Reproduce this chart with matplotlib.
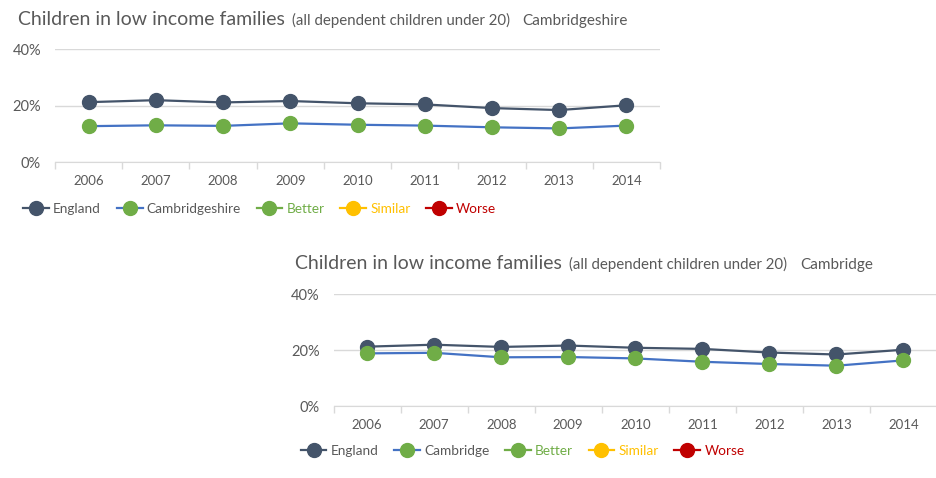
import matplotlib
matplotlib.use('Agg')
import matplotlib.pyplot as plt
from matplotlib.lines import Line2D
from matplotlib.ticker import FixedLocator

plt.rcParams['font.family'] = ['Lato', 'DejaVu Sans']

years = ['2006', '2007', '2008', '2009', '2010', '2011', '2012', '2013', '2014']
england = [21.2, 21.9, 21.1, 21.6, 20.8, 20.4, 19.1, 18.4, 20.1]
cambridgeshire = [12.7, 13.0, 12.8, 13.7, 13.2, 12.9, 12.3, 11.9, 12.9]
cambridge = [18.8, 19.0, 17.4, 17.5, 17.0, 15.8, 15.0, 14.4, 16.3]
legend_labels = ['Better', 'Similar', 'Worse']

GREY = '#595959'
GRID = '#D9D9D9'
NAVY = '#44546A'
BLUE = '#4472C4'
GREEN = '#70AD47'
AMBER = '#FFC000'
RED = '#C00000'

fig = plt.figure(figsize=(9.37, 4.78), dpi=100)


def draw_title(x, y, area):
    parts = [('Children in low income families', 14, 0),
             ('(all dependent children under 20)', 10.8, 7),
             (area, 11, 13)]
    r = fig.canvas.get_renderer()
    cur = x
    for txt, size, gap in parts:
        cur += gap / fig.bbox.width
        t = fig.text(cur, y, txt, fontsize=size, color=GREY, va='baseline')
        bb = t.get_window_extent(renderer=r)
        cur = (bb.x1) / fig.bbox.width


def draw_panel(rect, area, values, title_xy, leg_xy):
    ax = fig.add_axes(rect)
    x = list(range(len(years)))
    ax.plot(x, england, color=NAVY, lw=1.6, marker='o', ms=10,
            mfc=NAVY, mec=NAVY, zorder=3)
    ax.plot(x, values, color=BLUE, lw=1.6, marker='o', ms=10,
            mfc=GREEN, mec=GREEN, zorder=3)
    ax.set_xlim(-0.5, len(years) - 0.5)
    ax.set_ylim(0, 40)
    ax.set_yticks([0, 20, 40])
    ax.set_yticklabels(['0%', '20%', '40%'])
    ax.set_xticks(x)
    ax.set_xticklabels(years)
    ax.xaxis.set_minor_locator(FixedLocator([i - 0.5 for i in range(len(years) + 1)]))
    ax.tick_params(axis='x', which='major', length=0, pad=9, labelsize=9.5, labelcolor=GREY)
    ax.tick_params(axis='x', which='minor', length=5, color=GRID, width=1)
    ax.tick_params(axis='y', length=0, pad=10, labelsize=10.5, labelcolor=GREY)
    ax.yaxis.grid(True, color=GRID, lw=1)
    ax.set_axisbelow(True)
    for s in ['top', 'right', 'left']:
        ax.spines[s].set_visible(False)
    ax.spines['bottom'].set_color(GRID)
    ax.patch.set_alpha(0)

    draw_title(title_xy[0], title_xy[1], area)

    handles = [
        Line2D([], [], color=NAVY, lw=1.6, marker='o', ms=10, mfc=NAVY, mec=NAVY),
        Line2D([], [], color=BLUE, lw=1.6, marker='o', ms=10, mfc=GREEN, mec=GREEN),
        Line2D([], [], color=GREEN, lw=1.6, marker='o', ms=10, mfc=GREEN, mec=GREEN),
        Line2D([], [], color=AMBER, lw=1.6, marker='o', ms=10, mfc=AMBER, mec=AMBER),
        Line2D([], [], color=RED, lw=1.6, marker='o', ms=10, mfc=RED, mec=RED),
    ]
    labels = ['England', area] + legend_labels
    leg = fig.legend(handles, labels, loc='center left', bbox_to_anchor=leg_xy,
                     ncol=5, frameon=False, fontsize=9.8, handlelength=1.9,
                     handletextpad=0.3, columnspacing=1.15, borderaxespad=0)
    for t, c in zip(leg.get_texts(), [GREY, GREY, GREEN, AMBER, RED]):
        t.set_color(c)
    return ax


draw_panel([0.0587, 0.661, 0.6457, 0.2364], 'Cambridgeshire', cambridgeshire,
           (0.019, 0.948), (0.019, 1 - 209 / 478))
draw_panel([0.356, 0.1506, 0.644, 0.2343], 'Cambridge', cambridge,
           (0.315, 0.438), (0.315, 1 - 451 / 478))

fig.savefig('out.png', dpi=100)
